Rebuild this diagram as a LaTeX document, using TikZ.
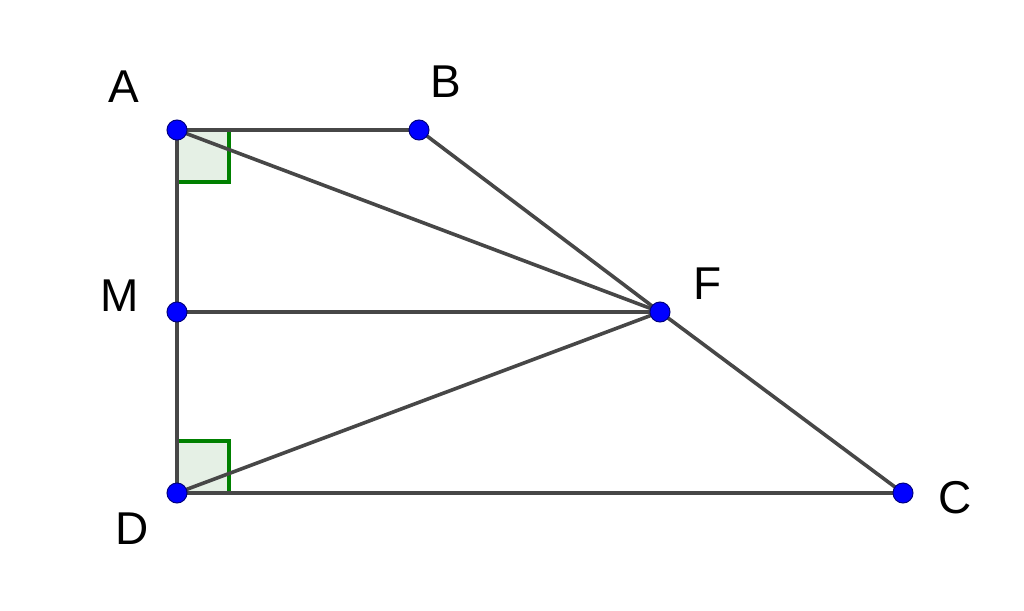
\documentclass[tikz,border=0pt]{standalone}
\usepackage{fontspec}
\setmainfont{Liberation Sans}
\begin{document}
\begin{tikzpicture}[x=1pt,y=-1pt,
  seg/.style={draw=black!72,line width=3.6pt},
  ra/.style={draw=green!50!black,fill=green!40!black!10,line width=3.4pt},
  pt/.style={circle,fill=blue,draw=blue!50!black,line width=1pt,inner sep=0pt,minimum size=20pt},
  lbl/.style={font=\fontsize{46}{46}\selectfont}]
\useasboundingbox (0,0) rectangle (1024,610);
\coordinate (A) at (177,130);
\coordinate (B) at (419,130);
\coordinate (M) at (177,312);
\coordinate (F) at (660,312);
\coordinate (D) at (177,493);
\coordinate (C) at (903,493);
\draw[ra] (177,130) rectangle (229,182);
\draw[ra] (177,441) rectangle (229,493);
\draw[seg] (A)--(B)--(F)--(C)--(D)--(M)--(A);
\draw[seg] (A)--(F) (M)--(F) (D)--(F);
\foreach \p in {A,B,M,F,D,C} \node[pt] (n\p) at (\p) {};
\node[lbl] (lA) at (124,87) {A};
\node[lbl] (lB) at (446,82) {B};
\node[lbl] (lM) at (120,296) {M};
\node[lbl] (lF) at (708,284) {F};
\node[lbl] (lD) at (132,529) {D};
\node[lbl] (lC) at (955,498) {C};
\end{tikzpicture}
\end{document}
